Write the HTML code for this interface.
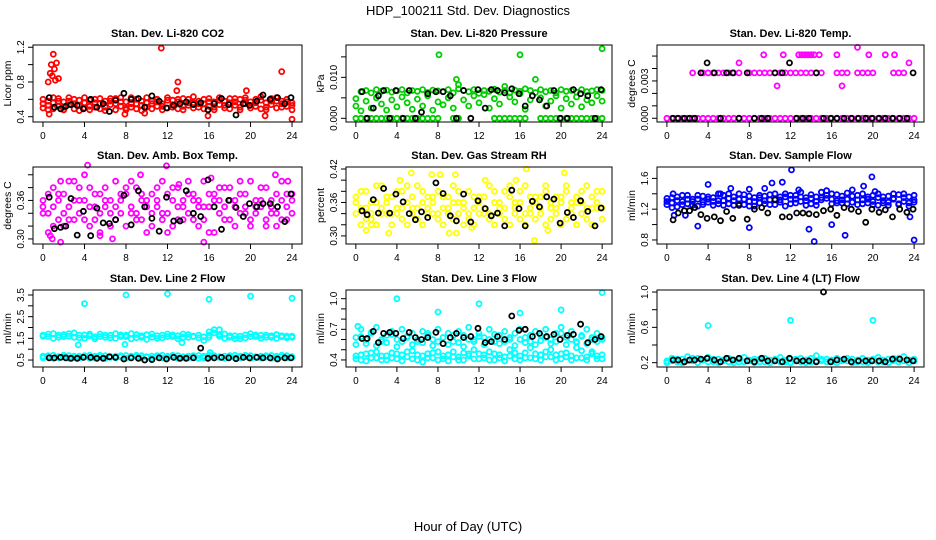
<!DOCTYPE html>
<html><head><meta charset="utf-8"><style>
html,body{margin:0;padding:0;background:#fff;}
svg{display:block;font-family:"Liberation Sans",sans-serif;}
</style></head><body>
<svg id="chart" width="936" height="540" viewBox="0 0 936 540" xmlns="http://www.w3.org/2000/svg">
<text x="468" y="15" text-anchor="middle" font-size="13">HDP_100211  Std. Dev. Diagnostics</text>
<text x="468" y="531" text-anchor="middle" font-size="13">Hour of Day (UTC)</text>
</svg>
<script>
const hours=[0,0.5,1,1.5,2,2.5,3,3.5,4,4.5,5,5.5,6,6.5,7,7.5,8,8.5,9,9.5,10,10.5,11,11.5,12,12.5,13,13.5,14,14.5,15,15.5,16,16.5,17,17.5,18,18.5,19,19.5,20,20.5,21,21.5,22,22.5,23,23.5,24];
const blackHours=[0.6,1.1,1.7,2.2,2.7,3.3,3.9,4.6,5.2,5.8,6.4,7.0,7.8,8.5,9.2,9.8,10.5,11.2,11.9,12.6,13.2,13.8,14.5,15.2,15.9,16.5,17.2,17.9,18.6,19.3,19.9,20.6,21.2,21.9,22.6,23.3,23.9];
const xTicks=[0,4,8,12,16,20,24];
const N=null,L=0.00365;

const co2S1=[0.55,0.58,0.62,0.52,0.57,0.54,0.60,0.53,0.56,0.59,0.51,0.55,0.58,0.54,0.61,0.52,0.57,0.55,0.60,0.53,0.56,0.58,0.52,0.55,0.59,0.54,0.57,0.61,0.53,0.56,0.55,0.60,0.52,0.57,0.54,0.58,0.56,0.53,0.60,0.55,0.57,0.52,0.59,0.56,0.54,0.58,0.55,0.60,0.56];
const co2S2=[0.50,0.53,0.49,0.58,0.51,0.62,0.49,0.59,0.50,0.52,0.60,0.49,0.51,0.61,0.48,0.57,0.50,0.62,0.49,0.58,0.51,0.49,0.60,0.52,0.50,0.59,0.49,0.52,0.60,0.50,0.58,0.49,0.61,0.51,0.59,0.50,0.49,0.61,0.51,0.59,0.50,0.60,0.49,0.51,0.61,0.50,0.58,0.52,0.53];
const co2S3=[0.60,0.48,0.56,0.61,0.48,0.58,0.55,0.47,0.62,0.48,0.56,0.61,0.47,0.58,0.55,0.62,0.48,0.51,0.55,0.47,0.62,0.55,0.57,0.48,0.62,0.51,0.60,0.48,0.56,0.63,0.51,0.55,0.57,0.48,0.62,0.53,0.61,0.57,0.48,0.62,0.53,0.56,0.63,0.48,0.58,0.62,0.51,0.57,0.48];
const co2OutX=[0.5,0.7,0.8,0.9,1.0,1.1,1.2,1.3,1.5,0.6,7.9,11.4,13.0,12.9,15.9,19.6,21.4,23.0,24,9.8];
const co2OutY=[0.8,0.9,1.0,0.87,1.12,0.95,0.82,1.02,0.84,0.43,0.43,1.19,0.8,0.7,0.41,0.7,0.41,0.92,0.37,0.44];
const co2Black=[0.62,0.51,0.49,0.52,0.54,0.53,0.49,0.60,0.51,0.55,0.46,0.59,0.67,0.60,0.61,0.51,0.64,0.58,0.50,0.53,0.55,0.57,0.54,0.56,0.48,0.55,0.61,0.54,0.42,0.55,0.53,0.58,0.65,0.60,0.62,0.55,0.62];

const presS1=[0,0,0,0,0,0,0,0,0,0,0,0,0,0,0,0,0,N,N,0,0,N,N,N,N,N,N,0,0,0,0,0,0,0,N,N,0,0,0,0,0,0,0,0,0,0,0,0,0];
const presS2=[0.0048,0.0065,0.0068,0.0062,0.0070,0.0066,0.0069,0.0064,0.0067,0.0070,0.0062,0.0068,0.0066,0.0070,0.0063,0.0069,0.0067,0.0065,0.0070,0.0062,0.0072,0.0068,0.0065,0.0070,0.0061,0.0068,0.0066,0.0071,0.0064,0.0068,0.0062,0.0069,0.0066,0.0072,0.0068,0.0063,0.0070,0.0065,0.0068,0.0062,0.0070,0.0066,0.0068,0.0064,0.0070,0.0065,0.0067,0.0070,0.0068];
const presS3=[0.0030,0.0018,0.0042,0.0025,0.0050,0.0035,0.0020,0.0045,0.0028,0.0052,0.0038,0.0022,0.0047,0.0030,0.0055,0.0020,0.0040,0.0033,0.0050,0.0025,0.0082,0.0045,0.0030,0.0055,0.0038,0.0058,0.0025,0.0048,0.0035,0.0078,0.0052,0.0040,0.0060,0.0022,0.0045,0.0095,0.0050,0.0030,0.0042,0.0055,0.0025,0.0048,0.0035,0.0052,0.0028,0.0045,0.0038,0.0055,0.0042];
const presOutX=[8.1,16.0,24.0,9.8];
const presOutY=[0.0155,0.0155,0.0170,0.0095];
const presBlack=[0.0065,0,0.0025,0.0055,0.0068,0,0.0068,0,0.0068,0,0.0015,0.0060,0.0065,0.0065,0.0055,0,0.0068,0,0.0070,0.0025,0.0070,0.0068,0.0062,0.0072,0.0060,0.0030,0.0055,0.0045,0.0030,0.0068,0,0,0.0070,0.0060,0.0055,0,0.0070];

const tempS1=[0,0,0,0,0,0,0,0,0,0,0,0,0,0,0,0,0,0,0,0,0,0,0,0,0,0,0,0,0,0,0,0,0,0,0,0,0,0,0,0,0,0,0,0,0,0,0,0,0];
const tempS2=[N,N,N,N,N,L,N,L,L,L,L,L,L,L,L,N,L,L,L,L,L,L,L,L,L,L,L,L,L,L,L,N,N,L,L,L,N,L,L,L,L,N,N,N,L,L,L,N,N];
const tempOutX=[9.4,11.3,12.8,13.1,13.4,13.7,14.0,14.3,14.8,16.5,19.6,21.2,22.1,7.0,23.5,18.5,10.7,17.0];
const tempOutY=[0.0051,0.0051,0.0051,0.0051,0.0051,0.0051,0.0051,0.0051,0.0051,0.0051,0.0051,0.0051,0.0051,0.00445,0.00445,0.0057,0.0026,0.0026];
const tempBlack=[0,0,0,0,0,0.00365,0.00445,0.00365,0,0.00365,0.00365,0,0.00365,0,0,0,0.00365,0.00365,0.00445,0,0,0,0.00365,0,0,0,0,0,0,0,0,0,0,0,0,0,0.00365];

const boxS1=[0.36,0.34,0.38,0.33,0.37,0.35,0.39,0.34,0.36,0.38,0.33,0.37,0.35,0.36,0.39,0.34,0.37,0.35,0.38,0.33,0.36,0.37,0.35,0.39,0.34,0.36,0.38,0.35,0.37,0.33,0.36,0.39,0.35,0.37,0.34,0.38,0.36,0.35,0.37,0.34,0.39,0.36,0.35,0.38,0.34,0.37,0.39,0.35,0.36];
const boxS2=[0.34,0.31,0.35,0.37,0.32,0.39,0.33,0.36,0.40,0.32,0.35,0.34,0.38,0.32,0.35,0.37,0.32,0.39,0.34,0.36,0.31,0.34,0.38,0.33,0.37,0.32,0.35,0.33,0.39,0.36,0.32,0.35,0.37,0.31,0.36,0.33,0.38,0.32,0.34,0.37,0.33,0.35,0.38,0.32,0.36,0.34,0.33,0.37,0.34];
const boxS3=[0.35,0.37,0.32,0.36,0.34,0.33,0.36,0.38,0.33,0.35,0.37,0.31,0.36,0.34,0.33,0.36,0.38,0.34,0.33,0.37,0.35,0.32,0.36,0.34,0.31,0.38,0.33,0.36,0.34,0.37,0.35,0.33,0.31,0.36,0.38,0.35,0.33,0.36,0.39,0.35,0.32,0.34,0.36,0.33,0.35,0.32,0.36,0.33,0.37];
const boxOutX=[0.7,0.9,1.7,1.7,4.3,5.5,6.7,9.4,11.9,13.1,15.5,16.2,22.4,23.6];
const boxOutY=[0.305,0.30,0.295,0.39,0.415,0.305,0.30,0.40,0.414,0.385,0.295,0.395,0.40,0.39];
const boxBlack=[0.365,0.316,0.318,0.320,0.363,0.306,0.343,0.305,0.348,0.325,0.324,0.330,0.368,0.322,0.375,0.350,0.332,0.312,0.365,0.328,0.328,0.375,0.340,0.335,0.392,0.350,0.315,0.360,0.349,0.335,0.355,0.350,0.355,0.355,0.350,0.327,0.370];

const rhS1=[0.37,0.35,0.38,0.33,0.36,0.39,0.34,0.37,0.35,0.38,0.36,0.34,0.39,0.36,0.37,0.34,0.38,0.35,0.37,0.39,0.34,0.36,0.38,0.35,0.37,0.34,0.39,0.36,0.35,0.38,0.37,0.34,0.36,0.39,0.35,0.37,0.34,0.38,0.36,0.35,0.37,0.39,0.34,0.36,0.38,0.35,0.37,0.36,0.38];
const rhS2=[0.34,0.32,0.33,0.36,0.32,0.34,0.37,0.32,0.34,0.33,0.32,0.37,0.33,0.32,0.34,0.37,0.33,0.32,0.34,0.33,0.36,0.32,0.33,0.32,0.34,0.37,0.33,0.32,0.34,0.33,0.32,0.36,0.33,0.32,0.34,0.33,0.37,0.32,0.33,0.34,0.32,0.33,0.36,0.32,0.34,0.33,0.32,0.35,0.33];
const rhS3=[0.36,0.38,0.35,0.34,0.39,0.35,0.36,0.34,0.38,0.35,0.39,0.35,0.35,0.38,0.35,0.36,0.34,0.37,0.35,0.36,0.38,0.35,0.34,0.37,0.36,0.35,0.34,0.38,0.36,0.35,0.39,0.35,0.38,0.34,0.37,0.36,0.35,0.39,0.35,0.37,0.36,0.38,0.35,0.37,0.36,0.39,0.35,0.38,0.35];
const rhOutX=[1.0,3.2,4.3,5.4,7.4,8.2,9.1,9.8,9.7,11.3,12.6,15.6,16.6,17.4,20.3,18.7,1.5];
const rhOutY=[0.31,0.305,0.40,0.413,0.41,0.41,0.305,0.305,0.41,0.315,0.40,0.40,0.42,0.292,0.413,0.31,0.32];
const rhBlack=[0.345,0.338,0.365,0.341,0.385,0.341,0.375,0.361,0.340,0.329,0.343,0.333,0.395,0.376,0.336,0.327,0.375,0.325,0.363,0.349,0.336,0.341,0.318,0.382,0.349,0.318,0.362,0.352,0.370,0.366,0.323,0.342,0.333,0.363,0.344,0.318,0.350];

const flowS1=[1.34,1.28,1.36,1.30,1.38,1.25,1.33,1.37,1.29,1.35,1.40,1.31,1.27,1.36,1.33,1.39,1.30,1.35,1.28,1.37,1.32,1.40,1.29,1.36,1.33,1.38,1.30,1.35,1.27,1.36,1.42,1.34,1.40,1.31,1.37,1.33,1.29,1.38,1.32,1.36,1.30,1.35,1.28,1.37,1.33,1.39,1.30,1.36,1.32];
const flowS2=[1.26,1.35,1.23,1.38,1.27,1.33,1.24,1.29,1.36,1.25,1.31,1.38,1.34,1.25,1.40,1.26,1.37,1.24,1.35,1.27,1.39,1.26,1.36,1.24,1.38,1.28,1.36,1.25,1.39,1.30,1.35,1.44,1.27,1.39,1.28,1.41,1.37,1.26,1.40,1.28,1.38,1.25,1.36,1.29,1.40,1.27,1.35,1.28,1.38];
const flowS3=[1.30,1.22,1.31,1.26,1.33,1.30,1.38,1.26,1.33,1.30,1.27,1.25,1.40,1.31,1.27,1.33,1.24,1.30,1.38,1.31,1.26,1.33,1.32,1.40,1.27,1.33,1.42,1.31,1.34,1.25,1.32,1.38,1.33,1.28,1.32,1.27,1.45,1.32,1.27,1.33,1.26,1.40,1.31,1.25,1.34,1.26,1.40,1.24,1.29];
const flowOutX=[0.6,3.0,4.0,5.2,6.2,8.0,8.0,9.5,10.2,11.2,12.1,12.8,13.8,14.3,16.0,17.3,19.1,19.9,20.2,23.6,24.0,1.8,0.7];
const flowOutY=[1.40,0.98,1.52,1.40,1.47,0.96,1.46,1.47,1.54,1.55,1.71,1.45,0.94,0.78,1.00,0.86,1.50,1.62,1.43,1.10,0.80,1.12,1.12];
const flowBlack=[1.06,1.15,1.18,1.18,1.22,1.13,1.08,1.10,1.05,1.17,1.08,1.25,1.07,1.20,1.22,1.15,1.32,1.10,1.10,1.15,1.15,1.14,1.13,1.18,1.20,1.12,1.22,1.20,1.17,1.03,1.20,1.16,1.19,1.10,1.20,1.16,1.20];

const l2S1=[1.65,1.58,1.72,1.55,1.68,1.60,1.75,1.52,1.66,1.62,1.57,1.70,1.55,1.64,1.50,1.66,1.58,1.72,1.53,1.62,1.67,1.55,1.50,1.65,1.70,1.58,1.62,1.55,1.68,1.60,1.52,1.57,1.65,1.90,1.60,1.70,1.55,1.62,1.48,1.66,1.72,1.58,1.64,1.55,1.62,1.68,1.57,1.60,1.55];
const l2S2=[1.60,1.70,1.50,1.65,1.58,1.72,1.55,1.65,1.50,1.70,1.48,1.58,1.65,1.52,1.72,1.58,1.65,1.48,1.68,1.55,1.45,1.70,1.62,1.52,1.58,1.66,1.48,1.70,1.55,1.58,1.65,1.40,1.55,1.75,1.68,1.50,1.62,1.48,1.60,1.52,1.58,1.66,1.50,1.65,1.55,1.50,1.62,1.52,1.60];
const l2S3=[0.68,0.62,0.72,0.60,0.66,0.70,0.62,0.68,0.64,0.72,0.60,0.66,0.70,0.62,0.68,0.64,0.71,0.60,0.66,0.70,0.62,0.68,0.64,0.72,0.60,0.66,0.70,0.62,0.68,0.64,0.71,0.60,0.66,0.70,0.62,0.68,0.64,0.72,0.60,0.66,0.70,0.62,0.68,0.64,0.71,0.60,0.66,0.70,0.62];
const l2S4=[0.60,0.70,0.58,0.66,0.72,0.58,0.68,0.60,0.70,0.58,0.68,0.72,0.58,0.66,0.60,0.70,0.58,0.68,0.72,0.60,0.66,0.58,0.70,0.60,0.68,0.72,0.58,0.66,0.60,0.70,0.58,0.68,0.72,0.60,0.66,0.58,0.70,0.60,0.68,0.72,0.58,0.66,0.60,0.70,0.58,0.68,0.72,0.60,0.66];
const l2OutX=[4.0,8.0,12.0,16.0,20.0,24.0,3.4,7.9,13.4,16.0,17.0,16.1];
const l2OutY=[3.1,3.5,3.55,3.3,3.45,3.35,1.2,1.22,1.3,1.8,1.9,0.85];
const l2Black=[0.60,0.60,0.62,0.60,0.58,0.58,0.62,0.62,0.58,0.58,0.65,0.62,0.55,0.60,0.58,0.50,0.52,0.60,0.55,0.62,0.58,0.58,0.60,1.05,0.58,0.60,0.62,0.60,0.56,0.62,0.60,0.62,0.60,0.60,0.55,0.60,0.60];

const l3S1=[0.62,0.70,0.60,0.66,0.72,0.58,0.64,0.68,0.60,0.70,0.62,0.66,0.58,0.68,0.64,0.60,0.70,0.62,0.66,0.58,0.68,0.64,0.72,0.60,0.66,0.62,0.70,0.58,0.64,0.68,0.60,0.66,0.70,0.62,0.58,0.68,0.64,0.70,0.60,0.66,0.72,0.62,0.68,0.58,0.64,0.70,0.60,0.66,0.62];
const l3S2=[0.44,0.40,0.46,0.42,0.48,0.40,0.44,0.47,0.41,0.45,0.43,0.49,0.40,0.44,0.46,0.42,0.48,0.41,0.45,0.43,0.40,0.47,0.44,0.41,0.46,0.42,0.48,0.40,0.45,0.43,0.50,0.41,0.44,0.47,0.42,0.46,0.40,0.48,0.43,0.45,0.41,0.47,0.44,0.42,0.49,0.43,0.46,0.41,0.45];
const l3S3=[0.41,0.45,0.39,0.47,0.42,0.44,0.40,0.42,0.46,0.39,0.48,0.41,0.45,0.38,0.42,0.47,0.40,0.44,0.39,0.48,0.43,0.40,0.46,0.50,0.41,0.45,0.40,0.46,0.42,0.39,0.44,0.47,0.40,0.42,0.52,0.41,0.45,0.43,0.50,0.40,0.46,0.43,0.40,0.52,0.42,0.40,0.48,0.44,0.41];
const l3S4=[0.55,0.63,0.56,0.67,0.54,0.60,0.57,0.65,0.53,0.58,0.63,0.55,0.60,0.57,0.66,0.54,0.58,0.62,0.55,0.64,0.57,0.53,0.60,0.58,0.63,0.55,0.60,0.65,0.56,0.58,0.62,0.54,0.60,0.57,0.64,0.55,0.59,0.62,0.56,0.58,0.66,0.55,0.60,0.57,0.63,0.56,0.62,0.58,0.60];
const l3OutX=[4.0,8.0,12.0,16.0,20.0,24.0,0.2,21.9];
const l3OutY=[1.0,0.87,0.95,0.86,0.89,1.06,0.73,0.75];
const l3Black=[0.61,0.61,0.68,0.57,0.66,0.67,0.66,0.61,0.67,0.62,0.60,0.62,0.67,0.56,0.62,0.66,0.62,0.63,0.71,0.57,0.58,0.63,0.60,0.83,0.69,0.70,0.63,0.66,0.63,0.65,0.60,0.64,0.65,0.75,0.57,0.60,0.63];

const l4S1=[0.22,0.25,0.21,0.24,0.27,0.22,0.25,0.23,0.26,0.21,0.24,0.22,0.25,0.23,0.21,0.26,0.22,0.24,0.21,0.25,0.23,0.22,0.26,0.21,0.24,0.22,0.25,0.23,0.21,0.28,0.22,0.24,0.21,0.25,0.23,0.22,0.24,0.21,0.25,0.23,0.22,0.26,0.21,0.24,0.22,0.25,0.27,0.23,0.22];
const l4S2=[0.20,0.22,0.24,0.20,0.22,0.25,0.20,0.23,0.21,0.24,0.20,0.23,0.21,0.20,0.24,0.21,0.23,0.20,0.24,0.21,0.20,0.24,0.21,0.23,0.20,0.24,0.21,0.20,0.25,0.22,0.24,0.21,0.23,0.20,0.22,0.25,0.20,0.23,0.21,0.20,0.24,0.21,0.23,0.20,0.25,0.21,0.22,0.20,0.24];
const l4OutX=[4.0,12.0,20.0];
const l4OutY=[0.62,0.68,0.68];
const l4Black=[0.23,0.23,0.21,0.23,0.23,0.24,0.25,0.23,0.21,0.25,0.23,0.25,0.22,0.21,0.25,0.22,0.22,0.21,0.25,0.22,0.22,0.22,0.21,1.00,0.21,0.23,0.24,0.21,0.22,0.22,0.22,0.22,0.21,0.24,0.24,0.23,0.22];

const panels=[
 {name:'co2',title:'Stan. Dev. Li-820 CO2',ylab:'Licor ppm',col:0,row:0,color:'#ff0000',d:[0.339,1.226],ticks:[0.4,0.6,0.8,1.0,1.2],labels:[0.4,0.8,1.2],dec:1,series:[co2S1,co2S2,co2S3],ox:co2OutX,oy:co2OutY,black:co2Black},
 {name:'pressure',title:'Stan. Dev. Li-820 Pressure',ylab:'kPa',col:1,row:0,color:'#00cd00',d:[-0.0009,0.0179],ticks:[0,0.005,0.010,0.015],labels:[0,0.010],dec:3,series:[presS1,presS2,presS3],ox:presOutX,oy:presOutY,black:presBlack},
 {name:'li820-temp',title:'Stan. Dev. Li-820 Temp.',ylab:'degrees C',col:2,row:0,color:'#ff00ff',d:[-0.0003,0.00589],ticks:[0,0.001,0.002,0.003,0.004,0.005],labels:[0,0.003],dec:3,series:[tempS1,tempS2],ox:tempOutX,oy:tempOutY,black:tempBlack},
 {name:'box-temp',title:'Stan. Dev. Amb. Box Temp.',ylab:'degrees C',col:0,row:1,color:'#ff00ff',d:[0.2921,0.4121],ticks:[0.30,0.32,0.34,0.36,0.38,0.40],labels:[0.30,0.36],dec:2,series:[boxS1,boxS2,boxS3],ox:boxOutX,oy:boxOutY,black:boxBlack},
 {name:'gas-rh',title:'Stan. Dev. Gas Stream RH',ylab:'percent',col:1,row:1,color:'#ffff00',d:[0.2855,0.4236],ticks:[0.30,0.32,0.34,0.36,0.38,0.40,0.42],labels:[0.30,0.36,0.42],dec:2,series:[rhS1,rhS2,rhS3],ox:rhOutX,oy:rhOutY,black:rhBlack},
 {name:'sample-flow',title:'Stan. Dev. Sample Flow',ylab:'ml/min',col:2,row:1,color:'#0000ff',d:[0.7475,1.748],ticks:[0.8,1.0,1.2,1.4,1.6],labels:[0.8,1.2,1.6],dec:1,series:[flowS1,flowS2,flowS3],ox:flowOutX,oy:flowOutY,black:flowBlack},
 {name:'line2-flow',title:'Stan. Dev. Line 2 Flow',ylab:'ml/min',col:0,row:2,color:'#00ffff',d:[0.179,3.73],ticks:[0.5,1.0,1.5,2.0,2.5,3.0,3.5],labels:[0.5,1.5,2.5,3.5],dec:1,series:[l2S1,l2S2,l2S3,l2S4],ox:l2OutX,oy:l2OutY,black:l2Black},
 {name:'line3-flow',title:'Stan. Dev. Line 3 Flow',ylab:'ml/min',col:1,row:2,color:'#00ffff',d:[0.331,1.085],ticks:[0.4,0.5,0.6,0.7,0.8,0.9,1.0],labels:[0.4,0.7,1.0],dec:1,series:[l3S1,l3S2,l3S3,l3S4],ox:l3OutX,oy:l3OutY,black:l3Black},
 {name:'line4-flow',title:'Stan. Dev. Line 4 (LT) Flow',ylab:'ml/min',col:2,row:2,color:'#00ffff',d:[0.151,1.023],ticks:[0.2,0.4,0.6,0.8,1.0],labels:[0.2,0.6,1.0],dec:1,series:[l4S1,l4S2],ox:l4OutX,oy:l4OutY,black:l4Black}
];
const NS='http://www.w3.org/2000/svg';
const svg=document.getElementById('chart');
const boxL=[33,346,657], boxW=[269,266,267], boxT=[45,167,290], boxH=77;
function mk(tag,attrs,parent){const e=document.createElementNS(NS,tag);for(const k in attrs)e.setAttribute(k,attrs[k]);parent.appendChild(e);return e;}
panels.forEach(p=>{
 const L0=boxL[p.col],W=boxW[p.col],T=boxT[p.row],B=T+boxH,R=L0+W;
 const xs=v=>L0+(v+0.96)/25.92*W;
 const ys=v=>B-(v-p.d[0])/(p.d[1]-p.d[0])*boxH;
 const g=mk('g',{},svg);
 
 
 const t=mk('text',{x:(L0+R)/2,y:T-8,'text-anchor':'middle','font-size':'11','font-weight':'bold'},g);
 t.textContent=p.title;
 
 
 const pts=mk('g',{fill:'none','stroke-width':'1.8'},g);
 
 
 const dot=(x,y,c,nm)=>{const e=mk('circle',{cx:xs(x).toFixed(1),cy:ys(y).toFixed(1),r:'2.5',stroke:c},pts);};
 p.series.forEach(s=>s.forEach((v,i)=>{if(v!==null)dot(hours[i],v,p.color,'point');}));
 p.ox.forEach((x,i)=>dot(x,p.oy[i],p.color,'outlier-point'));
 p.black.forEach((v,i)=>dot(blackHours[i],v,'#000','black-point'));
 const frame=mk('rect',{x:L0,y:T,width:W,height:boxH,fill:'none',stroke:'#000','stroke-width':'1'},g);
 
 
 const xa=mk('g',{},g);
 
 
 mk('line',{x1:xs(0),x2:xs(24),y1:B,y2:B,stroke:'#000'},xa);
 xTicks.forEach(v=>{mk('line',{x1:xs(v),x2:xs(v),y1:B,y2:B+5,stroke:'#000'},xa);
  const tx=mk('text',{x:xs(v),y:B+17,'text-anchor':'middle','font-size':'10'},xa);tx.textContent=v;
  
  });
 const ya=mk('g',{},g);
 
 
 mk('line',{x1:L0,x2:L0,y1:ys(p.ticks[0]),y2:ys(p.ticks[p.ticks.length-1]),stroke:'#000'},ya);
 p.ticks.forEach(v=>mk('line',{x1:L0-5,x2:L0,y1:ys(v),y2:ys(v),stroke:'#000'},ya));
 p.labels.forEach(v=>{const x=L0-9,y=ys(v);const tx=mk('text',{x:x,y:y,'text-anchor':'middle','font-size':'10',transform:`rotate(-90 ${x} ${y})`},ya);tx.textContent=v.toFixed(p.dec);
  
  });
 const yl=mk('text',{x:L0-22,y:T+boxH/2,'text-anchor':'middle','font-size':'10.5',transform:`rotate(-90 ${L0-22} ${T+boxH/2})`},g);
 yl.textContent=p.ylab;
 
 
});
</script>
</body></html>
